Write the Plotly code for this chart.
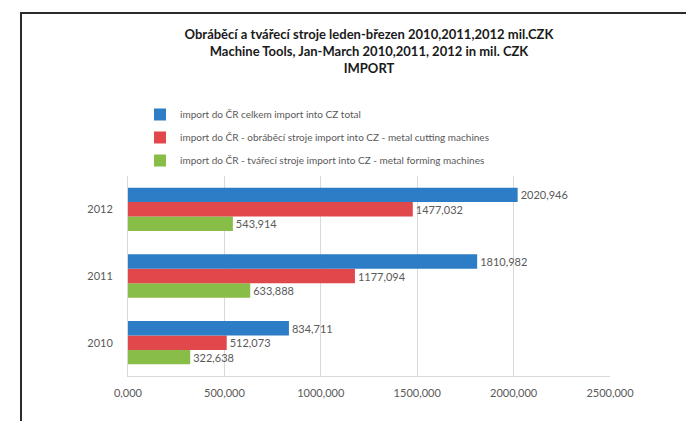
import plotly.graph_objects as go

years = ["2010", "2011", "2012"]
total_import = [834.711, 1810.982, 2020.946]
cutting_import = [512.073, 1177.094, 1477.032]
forming_import = [322.638, 633.888, 543.914]

series_names = [
    "import do ČR celkem import into CZ total",
    "import do ČR - obráběcí stroje import into CZ - metal cutting machines",
    "import do ČR - tvářecí stroje import into CZ - metal forming machines",
]
series_colors = ["#2D7CC6", "#E0484B", "#88BD48"]

x_tick_vals = [0, 500, 1000, 1500, 2000, 2500]
x_tick_text = ["0,000", "500,000", "1000,000", "1500,000", "2000,000", "2500,000"]

title_lines = [
    "Obráběcí a tvářecí stroje leden-březen 2010,2011,2012 mil.CZK",
    "Machine Tools, Jan-March 2010,2011, 2012 in mil. CZK",
    "IMPORT",
]

W, H = 694, 421
L, R, T, B = 120, 92, 168, 53
PW, PH = W - L - R, H - T - B


def px_x(x):
    return (x - L) / PW


def px_y(y):
    return 1 - (y - T) / PH


FONT = "Lato, 'Liberation Sans', Arial, sans-serif"
GREY = "#595959"

fig = go.Figure()
values = [total_import, cutting_import, forming_import]
# add in reverse so the total bar sits on top of each group
for i in [2, 1, 0]:
    fig.add_trace(go.Bar(
        y=years, x=values[i], orientation="h", name=series_names[i],
        marker=dict(color=series_colors[i], line=dict(width=0)),
        text=values[i], texttemplate="%{x:.3f}", textposition="outside",
        textfont=dict(size=11, color=GREY, family=FONT),
        constraintext="none", cliponaxis=False,
        legendgroup=str(i), legendrank=i + 1,
    ))

fig.update_layout(
    width=W, height=H,
    margin=dict(l=L, r=R, t=T, b=B, pad=0, autoexpand=False),
    paper_bgcolor="white", plot_bgcolor="white",
    barmode="group", bargap=0.35, bargroupgap=0,
    separators=",.",
    font=dict(family=FONT, size=10, color=GREY),
    title=dict(
        text="<br>".join(title_lines),
        x=0.5, xanchor="center", xref="paper",
        y=1 - 31 / H, yanchor="top", yref="container",
        font=dict(family=FONT, size=13, color="#1a1a1a", weight="bold"),
    ),
    showlegend=True,
    legend=dict(
        xref="container", yref="container",
        x=132 / W, xanchor="left", y=1 - 92 / H, yanchor="top",
        traceorder="grouped", tracegroupgap=4,
        font=dict(family=FONT, size=10, color=GREY),
        bgcolor="rgba(0,0,0,0)", borderwidth=0,
    ),
    xaxis=dict(
        range=[0, 2500], tickvals=x_tick_vals, ticktext=x_tick_text,
        showgrid=True, gridcolor="#D9D9D9", gridwidth=1,
        showline=True, linecolor="#D9D9D9", linewidth=1,
        zeroline=False, ticks="", ticklabelstandoff=7, automargin=False,
        tickfont=dict(family=FONT, size=11, color=GREY),
    ),
    yaxis=dict(
        type="category", categoryorder="array", categoryarray=years,
        showgrid=False, showline=True, linecolor="#D9D9D9", linewidth=1,
        ticks="", ticklabelstandoff=12, automargin=False,
        tickfont=dict(family=FONT, size=11, color=GREY),
    ),
    shapes=[dict(
        type="rect", xref="paper", yref="paper",
        x0=px_x(13), x1=px_x(689), y0=px_y(430), y1=px_y(5),
        line=dict(color="#2b2b2b", width=2), fillcolor="rgba(0,0,0,0)",
        layer="above",
    )],
)

fig.write_html("out.html")
